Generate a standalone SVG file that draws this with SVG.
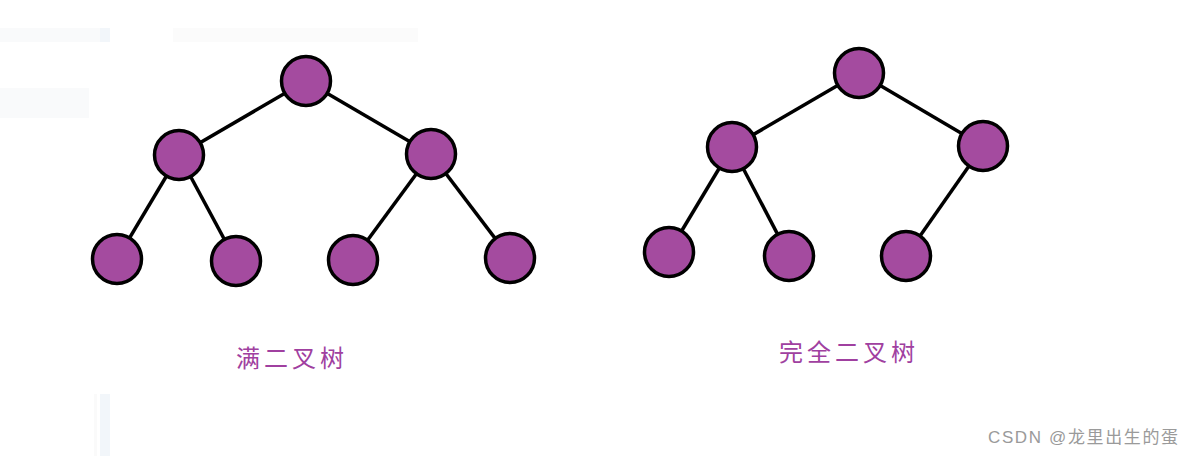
<svg xmlns="http://www.w3.org/2000/svg" width="1193" height="456" viewBox="0 0 1193 456">
<style>
.node{fill:#a44b9f;stroke:#000;stroke-width:3.5}
.edge{stroke:#000;stroke-width:3.5;fill:none}
.label{font-family:"Noto Sans CJK SC","Noto Sans",sans-serif;font-size:24px;fill:#a040a0;letter-spacing:4px}
.wm{font-family:"Liberation Sans","Noto Sans CJK SC",sans-serif;font-size:17px;fill:#9a9a9a}
</style>
<rect width="1193" height="456" fill="#fff"/>
<g id="bg" fill="#f9fafb">
<rect x="0" y="28" width="100" height="14"/>
<rect x="100" y="28" width="10" height="14" fill="#f2f6fa"/>
<rect x="173" y="28" width="245" height="14" fill="#fbfbfb"/>
<rect x="0" y="88" width="89" height="30"/>
<rect x="94" y="394" width="3" height="62" fill="#fafafa"/>
<rect x="100" y="394" width="10" height="62" fill="#f2f6fa"/>
</g>
<g id="connectors">
<line class="edge" x1="306" y1="81" x2="179" y2="155"/>
<line class="edge" x1="306" y1="81" x2="431" y2="154"/>
<line class="edge" x1="179" y1="155" x2="117" y2="259"/>
<line class="edge" x1="179" y1="155" x2="236" y2="261"/>
<line class="edge" x1="431" y1="154" x2="353" y2="260"/>
<line class="edge" x1="431" y1="154" x2="510" y2="258"/>
<line class="edge" x1="859" y1="73" x2="732" y2="147"/>
<line class="edge" x1="859" y1="73" x2="983" y2="146"/>
<line class="edge" x1="732" y1="147" x2="669" y2="252"/>
<line class="edge" x1="732" y1="147" x2="789" y2="256"/>
<line class="edge" x1="983" y1="146" x2="906" y2="256"/>
</g>
<g id="full-root"><circle class="node" cx="306" cy="81" r="24.5"/></g>
<g id="full-l"><circle class="node" cx="179" cy="155" r="24.5"/></g>
<g id="full-r"><circle class="node" cx="431" cy="154" r="24.5"/></g>
<g id="full-ll"><circle class="node" cx="117" cy="259" r="24.5"/></g>
<g id="full-lr"><circle class="node" cx="236" cy="261" r="24.5"/></g>
<g id="full-rl"><circle class="node" cx="353" cy="260" r="24.5"/></g>
<g id="full-rr"><circle class="node" cx="510" cy="258" r="24.5"/></g>
<g id="comp-root"><circle class="node" cx="859" cy="73" r="24.5"/></g>
<g id="comp-l"><circle class="node" cx="732" cy="147" r="24.5"/></g>
<g id="comp-r"><circle class="node" cx="983" cy="146" r="24.5"/></g>
<g id="comp-ll"><circle class="node" cx="669" cy="252" r="24.5"/></g>
<g id="comp-lr"><circle class="node" cx="789" cy="256" r="24.5"/></g>
<g id="comp-rl"><circle class="node" cx="906" cy="256" r="24.5"/></g>
<text class="label" x="236" y="367">满二叉树</text>
<text class="label" x="779" y="361">完全二叉树</text>
<text class="wm" x="988" y="443" textLength="190" lengthAdjust="spacing">CSDN @龙里出生的蛋</text>
</svg>
